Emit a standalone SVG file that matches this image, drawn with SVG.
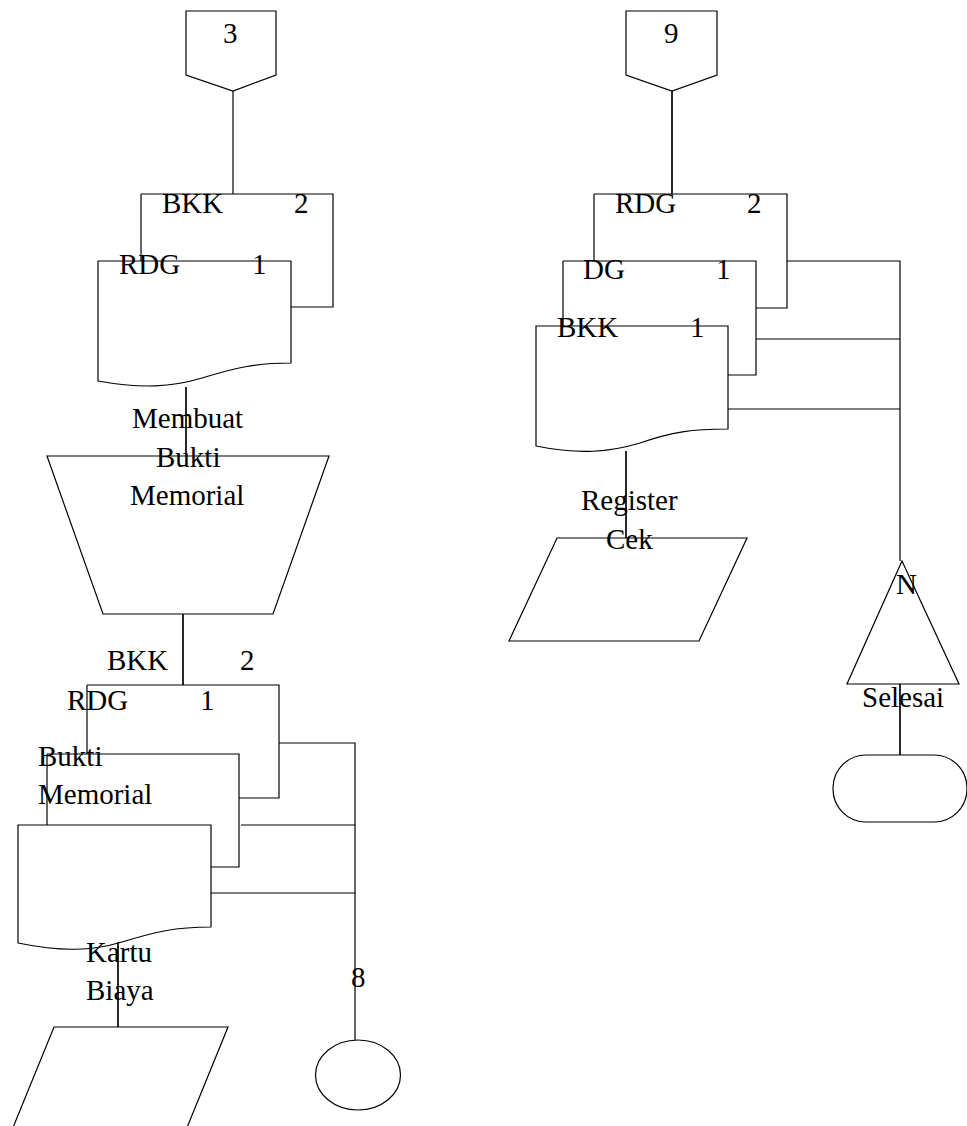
<svg xmlns="http://www.w3.org/2000/svg" width="967" height="1126" viewBox="0 0 967 1126">
<style>
.s{fill:#fff;stroke:#000;stroke-width:1.2}
.n{fill:none;stroke:#000;stroke-width:1.2}
text{font-family:"Liberation Serif","Times New Roman",serif;font-size:29px;fill:#000}
</style>
<rect width="967" height="1126" fill="#fff"/>
<g id="connectors">
<path class="n" d="M233,91 V194"/>
<path class="n" d="M186,387 V456"/>
<path class="n" d="M183,614 V685"/>
<path class="n" d="M279,743 H355 V1040"/>
<path class="n" d="M241,825 H355"/>
<path class="n" d="M211,893 H355"/>
<path class="n" d="M118,942 V1027"/>
<path class="n" d="M672,91 V194"/>
<path class="n" d="M787,261 H900 V561"/>
<path class="n" d="M756,339 H900"/>
<path class="n" d="M728,409 H900"/>
<path class="n" d="M626,451 V538"/>
<path class="n" d="M900,683 V755"/>
</g>
<g id="conn3">
<path class="s" d="M186,11 H276 V75 L233,91 L186,75 Z"/>
<text x="223" y="43">3</text>
</g>
<g id="docL1">
<path class="s" d="M141,194 H333 V307 H291"/>
<path class="s" d="M141,194 V262"/>
<text x="162" y="213">BKK</text>
<text x="294" y="213">2</text>
</g>
<g id="docL2">
<path class="s" d="M98,261 H291 V363 C255,363 235,368 202,378 C172,387 142,389 98,381 Z"/>
<text x="119" y="274">RDG</text>
<text x="252" y="274">1</text>
</g>
<g id="manual">
<path class="s" d="M47,456 H329 L273,614 H103 Z"/>
<path class="n" d="M186,387 V456"/>
<text x="132" y="428">Membuat</text>
<text x="156" y="467">Bukti</text>
<text x="130" y="505">Memorial</text>
</g>
<g id="docL3">
<text x="107" y="670">BKK</text>
<text x="240" y="670">2</text>
</g>
<g id="docL4">
<path class="s" d="M87,685 H279 V798 H239"/>
<path class="n" d="M87,685 V754"/>
<path class="n" d="M183,614 V685"/>
<text x="67" y="710">RDG</text>
<text x="200" y="710">1</text>
</g>
<g id="docL5">
<path class="s" d="M47,754 H239 V867 H211"/>
<path class="n" d="M47,754 V825"/>
<text x="38" y="766">Bukti</text>
<text x="38" y="804">Memorial</text>
</g>
<g id="docL6">
<path class="s" d="M18,825 H211 V927 C175,927 155,932 122,942 C92,951 62,952 18,943 Z"/>
</g>
<g id="kartu">
<path class="s" d="M54,1027 H228 L186,1130 H12 Z"/>
<path class="n" d="M118,942 V1027"/>
<text x="86" y="962">Kartu</text>
<text x="86" y="1000">Biaya</text>
</g>
<g id="conn8">
<ellipse class="s" cx="358" cy="1075" rx="42.5" ry="35"/>
<text x="351" y="987">8</text>
</g>
<g id="conn9">
<path class="s" d="M626,11 H717 V75 L672,91 L626,75 Z"/>
<text x="664" y="43">9</text>
</g>
<g id="docR1">
<path class="s" d="M594,194 H787 V308 H756"/>
<path class="n" d="M594,194 V261"/>
<path class="n" d="M672,91 V194"/>
<text x="615" y="213">RDG</text>
<text x="747" y="213">2</text>
</g>
<g id="docR2">
<path class="s" d="M563,261 H756 V375 H728"/>
<path class="n" d="M563,261 V326"/>
<text x="583" y="279">DG</text>
<text x="716" y="279">1</text>
</g>
<g id="docR3">
<path class="s" d="M536,326 H728 V429 C692,429 672,432 640,443 C610,452 580,455 536,446 Z"/>
<text x="557" y="337">BKK</text>
<text x="690" y="337">1</text>
</g>
<g id="register">
<path class="s" d="M557,538 H747 L699,641 H509 Z"/>
<path class="n" d="M626,451 V538"/>
<text x="581" y="510">Register</text>
<text x="606" y="549">Cek</text>
</g>
<g id="offline">
<path class="s" d="M902,561 L959,684 H847 Z"/>
<path class="n" d="M900,684 V755"/>
<text x="896" y="594">N</text>
<text x="862" y="707">Selesai</text>
</g>
<g id="terminator">
<rect class="s" x="833" y="755" width="134" height="67" rx="33" ry="33"/>
</g>
</svg>
